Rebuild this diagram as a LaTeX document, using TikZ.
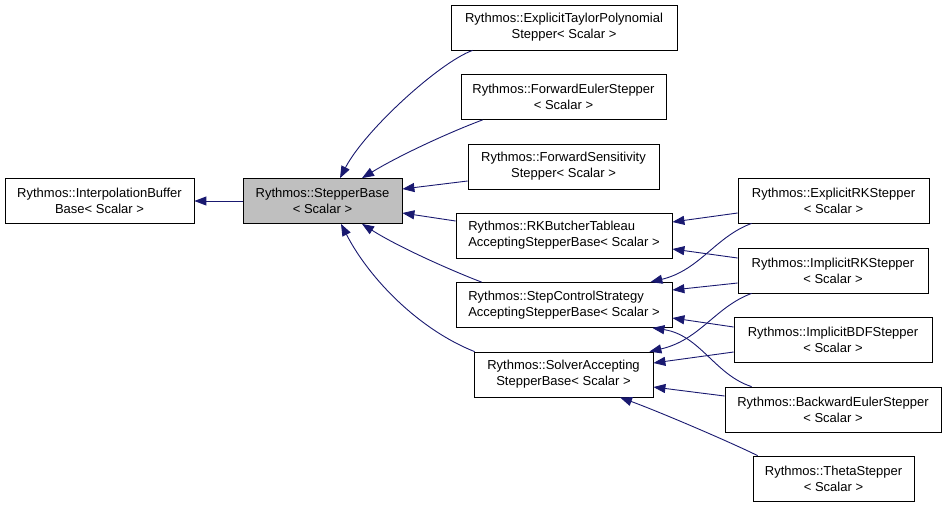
\documentclass[tikz,border=0pt]{standalone}
\usepackage{fontspec}
\setmainfont{Liberation Sans}
\usetikzlibrary{arrows.meta}
\definecolor{edgeblue}{RGB}{25,25,112}
\definecolor{basegray}{RGB}{191,191,191}
\begin{document}
\begin{tikzpicture}[x=1pt,y=-1pt,
  cls/.style={draw=black, line width=0.8pt, fill=white, inner sep=0pt,
    minimum height=45pt, font=\fontsize{13}{16}\selectfont, align=center},
  lcls/.style={cls, align=left},
  arr/.style={draw=edgeblue, line width=0.9pt, -{Triangle[length=12pt,width=9pt]}}]
\useasboundingbox (0,0) rectangle (947,507);

\node[cls, minimum width=189pt] (IB) at (99.5,201) {Rythmos::InterpolationBuffer\\Base< Scalar >};
\node[cls, minimum width=159pt, fill=basegray] (SB) at (322.5,201) {Rythmos::StepperBase\\< Scalar >};
\node[cls, minimum width=226pt] (ETP) at (564,27.5) {Rythmos::ExplicitTaylorPolynomial\\Stepper< Scalar >};
\node[cls, minimum width=205pt] (FE) at (563.5,97) {Rythmos::ForwardEulerStepper\\< Scalar >};
\node[cls, minimum width=191pt] (FS) at (563.5,166.5) {Rythmos::ForwardSensitivity\\Stepper< Scalar >};
\node[lcls, minimum width=216pt] (RK) at (564,235.5) {Rythmos::RKButcherTableau\\AcceptingStepperBase< Scalar >};
\node[lcls, minimum width=216pt] (SC) at (564,305) {Rythmos::StepControlStrategy\\AcceptingStepperBase< Scalar >};
\node[cls, minimum width=179pt] (SA) at (563.5,374.5) {Rythmos::SolverAccepting\\StepperBase< Scalar >};
\node[cls, minimum width=191pt] (ERK) at (833.5,200.5) {Rythmos::ExplicitRKStepper\\< Scalar >};
\node[cls, minimum width=190pt] (IRK) at (833,270.5) {Rythmos::ImplicitRKStepper\\< Scalar >};
\node[cls, minimum width=198pt] (BDF) at (833,339.5) {Rythmos::ImplicitBDFStepper\\< Scalar >};
\node[cls, minimum width=216pt] (BE) at (833,409.5) {Rythmos::BackwardEulerStepper\\< Scalar >};
\node[cls, minimum width=161pt] (TH) at (833.5,478.5) {Rythmos::ThetaStepper\\< Scalar >};

\draw[arr] (SB.west) -- (IB.east);
\draw[arr] ([xshift=22pt]ETP.south west) .. controls (440,62) and (365,130) .. ([xshift=17.5pt]SB.north);
\draw[arr] ([xshift=22pt]FE.south west) .. controls (450,132) and (400,155) .. ([xshift=39.5pt]SB.north);
\draw[arr] ([yshift=-14.5pt]FS.west) -- ([yshift=12pt]SB.east);
\draw[arr] ([yshift=14.5pt]RK.west) -- ([yshift=-12pt]SB.east);
\draw[arr] ([xshift=26pt]SC.north west) .. controls (455,272) and (400,248) .. ([xshift=39.5pt]SB.south);
\draw[arr] ([xshift=1pt]SA.north west) .. controls (420,330) and (370,280) .. ([xshift=18.5pt]SB.south);

\draw[arr] ([yshift=-12.5pt]ERK.west) -- ([yshift=13.5pt]RK.east);
\draw[arr] ([yshift=12.5pt]IRK.west) -- ([yshift=-13.5pt]RK.east);
\draw[arr] ([xshift=14pt]ERK.south west) .. controls (715,237) and (700,270) .. ([xshift=-22pt]SC.north east);
\draw[arr] ([yshift=-12.5pt]IRK.west) -- ([yshift=15pt]SC.east);
\draw[arr] ([yshift=12.5pt]BDF.west) -- ([yshift=-13pt]SC.east);
\draw[arr] ([xshift=27pt]BE.north west) .. controls (715,375) and (700,335) .. ([xshift=-20pt]SC.south east);
\draw[arr] ([xshift=14pt]IRK.south west) .. controls (715,307) and (700,340) .. ([xshift=-4pt]SA.north east);
\draw[arr] ([yshift=-12.5pt]BDF.west) -- ([yshift=11.5pt]SA.east);
\draw[arr] ([yshift=13.5pt]BE.west) -- ([yshift=-12.5pt]SA.east);
\draw[arr] ([xshift=5pt]TH.north west) .. controls (730,442) and (660,412) .. ([xshift=56.5pt]SA.south);
\end{tikzpicture}
\end{document}
